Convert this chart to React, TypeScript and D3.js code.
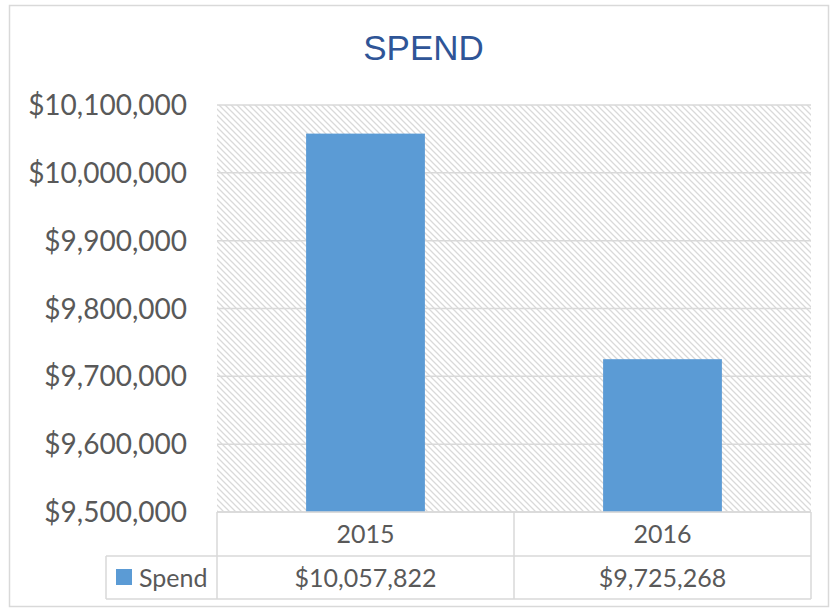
import * as d3 from "d3";

const years = ["2015", "2016"];
const spend = [10057822, 9725268];
const yTicks = [9500000, 9600000, 9700000, 9800000, 9900000, 10000000, 10100000];
const seriesName = "Spend";

const W = 831;
const H = 608;
const plot = { left: 217, right: 811, top: 105, bottom: 512 };
const tableRow1 = 556;
const tableBottom = 599;
const legendLeft = 106;

const fmt = (v: number) => "$" + d3.format(",")(v);

export default function App() {
  const x = d3.scaleBand<string>()
    .domain(years)
    .range([plot.left, plot.right])
    .paddingInner(0.6)
    .paddingOuter(0.3);
  const y = d3.scaleLinear()
    .domain([9500000, 10100000])
    .range([plot.bottom, plot.top]);

  const axisColor = "#595959";
  const lineColor = "#d9d9d9";
  const colEdges = [plot.left, ...years.map((_, i) => plot.left + (i + 1) * x.step())];

  return (
    <svg width={W} height={H} style={{ position: "absolute", left: 0, top: 0, background: "#fff" }}>
      <defs>
        <pattern id="hatch" width="6" height="6" patternUnits="userSpaceOnUse">
          <path d="M-1,-1 L7,7 M-1,5 L1,7 M5,-1 L7,1" stroke="#d9d9d9" strokeWidth="1.3" />
        </pattern>
      </defs>
      <rect x={9.5} y={5.5} width={819} height={601} fill="#fff" stroke={lineColor} strokeWidth={1.5} />

      <text x={W / 2 + 8} y={60} textAnchor="middle" fontFamily="Liberation Sans, Arial, sans-serif"
        fontSize={35} fill="#2f5597">SPEND</text>

      <rect x={plot.left} y={plot.top} width={plot.right - plot.left} height={plot.bottom - plot.top}
        fill="url(#hatch)" />

      {yTicks.map(t => (
        <g key={t}>
          <line x1={plot.left} x2={plot.right} y1={y(t)} y2={y(t)} stroke={lineColor} strokeWidth={1.5} />
          <text x={187} y={y(t)} dy="0.36em" textAnchor="end" fontFamily="Lato, sans-serif"
            fontSize={28} fill={axisColor}>{fmt(t)}</text>
        </g>
      ))}

      {years.map((yr, i) => (
        <rect key={yr} x={x(yr)} y={y(spend[i])} width={x.bandwidth()} height={plot.bottom - y(spend[i])}
          fill="#5b9bd5" />
      ))}

      {/* data table */}
      <g stroke={lineColor} strokeWidth={1.5}>
        <line x1={plot.left} x2={plot.right} y1={plot.bottom} y2={plot.bottom} />
        <line x1={legendLeft} x2={plot.right} y1={tableRow1} y2={tableRow1} />
        <line x1={legendLeft} x2={plot.right} y1={tableBottom} y2={tableBottom} />
        <line x1={legendLeft} x2={legendLeft} y1={tableRow1} y2={tableBottom} />
        {colEdges.map(cx => (
          <line key={cx} x1={cx} x2={cx} y1={plot.bottom} y2={tableBottom} />
        ))}
      </g>
      {years.map((yr, i) => {
        const cx = (x(yr) as number) + x.bandwidth() / 2;
        return (
          <g key={yr} fontFamily="Lato, sans-serif" fontSize={25} fill={axisColor} textAnchor="middle">
            <text x={cx} y={(plot.bottom + tableRow1) / 2} dy="0.36em">{yr}</text>
            <text x={cx} y={(tableRow1 + tableBottom) / 2} dy="0.36em">{fmt(spend[i])}</text>
          </g>
        );
      })}
      <rect x={116} y={569} width={16} height={16} fill="#5b9bd5" />
      <text x={139} y={(tableRow1 + tableBottom) / 2} dy="0.36em" fontFamily="Lato, sans-serif"
        fontSize={25} fill={axisColor}>{seriesName}</text>
    </svg>
  );
}
